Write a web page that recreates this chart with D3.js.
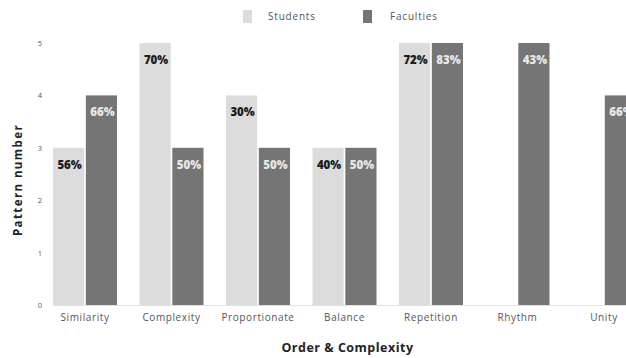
<!DOCTYPE html>
<html><head><meta charset="utf-8">
<script src="https://cdn.jsdelivr.net/npm/d3@7"></script>
<style>html,body{margin:0;padding:0;background:#fff;overflow:hidden}</style>
</head><body>
<svg id="c" width="626" height="358"></svg>
<script>
const categories = ["Similarity","Complexity","Proportionate","Balance","Repetition","Rhythm","Unity"];
const seriesNames = ["Students","Faculties"];
const studentValues = [3,5,4,3,5,null,null];
const facultyValues = [4,3,3,3,5,5,4];
const studentLabels = ["56%","70%","30%","40%","72%","",""];
const facultyLabels = ["66%","50%","50%","50%","83%","43%","66%"];
const yTicks = [0,1,2,3,4,5];
const colors = {Students:"#dcdcdc", Faculties:"#757575"};

const svg = d3.select("#c");
const FONT = "'Open Sans', sans-serif";

const x = d3.scaleBand().domain(categories).range([41.75, 647.25]).paddingInner(0.26).paddingOuter(0.13);
const xi = d3.scaleBand().domain(seriesNames).range([0, x.bandwidth()]).paddingInner(0.05);
const y = d3.scaleLinear().domain([0,5]).range([305, 43]);

// baseline
svg.append("line").attr("x1", x(categories[0])).attr("x2", 626)
  .attr("y1", y(0)+0.5).attr("y2", y(0)+0.5).attr("stroke","#e2e2e2").attr("stroke-width",1);

const rows = categories.map((c,i)=>({c, vals:[
  {s:"Students", v:studentValues[i], l:studentLabels[i]},
  {s:"Faculties", v:facultyValues[i], l:facultyLabels[i]}]}));

const g = svg.selectAll("g.cat").data(rows).join("g").attr("class","cat")
  .attr("transform", d=>`translate(${x(d.c)},0)`);
const bars = g.selectAll("g.b").data(d=>d.vals.filter(v=>v.v!=null)).join("g").attr("class","b");
bars.append("rect")
  .attr("x", d=>xi(d.s)).attr("width", xi.bandwidth())
  .attr("y", d=>y(d.v)).attr("height", d=>y(0)-y(d.v))
  .attr("fill", d=>colors[d.s]);
bars.append("text")
  .attr("x", d=>xi(d.s)+xi.bandwidth()/2+1).attr("y", d=>y(d.v)+21)
  .attr("text-anchor","middle").attr("font-family",FONT).attr("font-weight",800)
  .attr("font-size",11.5).attr("fill", d=>d.s==="Students"?"#1e1e1e":"#e6e6e6")
  .text(d=>d.l);

// y ticks
svg.selectAll("text.yt").data(yTicks).join("text").attr("class","yt")
  .attr("x",40).attr("y",d=>y(d)+3).attr("text-anchor","middle")
  .attr("font-family",FONT).attr("font-size",7.5).attr("fill","#555").text(d=>d);

// x ticks
svg.selectAll("text.xt").data(categories).join("text").attr("class","xt")
  .attr("x",d=>x(d)+x.bandwidth()/2).attr("y",321).attr("text-anchor","middle")
  .attr("font-family",FONT).attr("font-size",10).attr("letter-spacing","0.6px").attr("fill","#555").text(d=>d);

// axis titles
svg.append("text").attr("transform","translate(22,180) rotate(-90)").attr("text-anchor","middle")
  .attr("font-family",FONT).attr("font-weight",700).attr("font-size",11.5).attr("letter-spacing","1.4px").attr("fill","#222")
  .text("Pattern number");
svg.append("text").attr("x",347.5).attr("y",352).attr("text-anchor","middle")
  .attr("font-family",FONT).attr("font-weight",700).attr("font-size",12.5).attr("letter-spacing","0.5px").attr("fill","#222")
  .text("Order & Complexity");

// legend
const leg = [{s:"Students", x:243, tx:268},{s:"Faculties", x:363, tx:390}];
leg.forEach(l=>{
  svg.append("rect").attr("x",l.x).attr("y",10).attr("width",9).attr("height",13).attr("fill",colors[l.s]);
  svg.append("text").attr("x",l.tx).attr("y",20).attr("font-family",FONT).attr("font-size",10)
    .attr("letter-spacing","0.8px").attr("fill","#555").text(l.s);
});
</script>
</body></html>
